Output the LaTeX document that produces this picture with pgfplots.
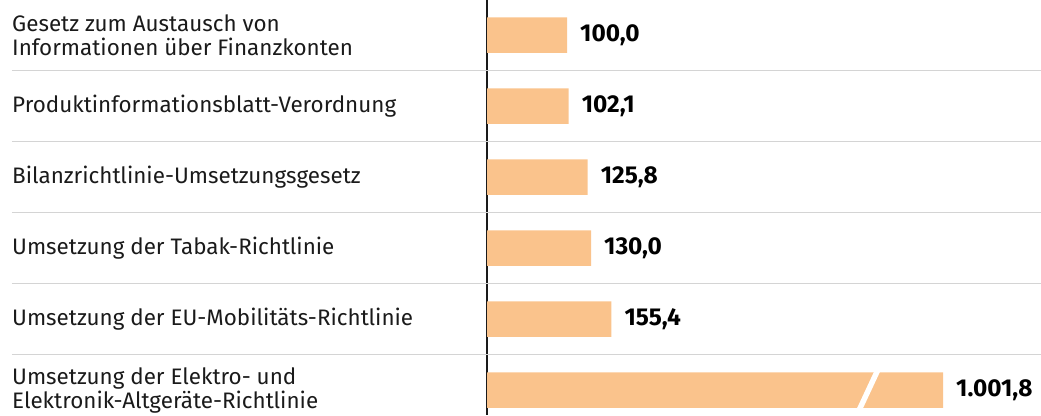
\documentclass[border=0pt]{standalone}
\usepackage{fontspec}
\setmainfont{Fira Sans}
\usepackage{pgfplots}
\pgfplotsset{compat=1.18}
\definecolor{barc}{RGB}{250,195,140}
\definecolor{sepc}{RGB}{212,212,212}
\definecolor{txt}{RGB}{26,26,26}
\begin{document}
\begin{tikzpicture}[x=1bp,y=1bp]
\clip (0,0) rectangle (1041,-415);
\begin{axis}[
    at={(487bp,0bp)}, anchor=north west,
    scale only axis,
    width=554bp, height=415bp,
    xmin=0, xmax=692.5,
    ymin=0.507, ymax=6.352,
    y dir=reverse,
    xbar, bar width=35.5bp,
    hide x axis,
    axis y line*=left,
    y axis line style={-, txt, line width=1.3bp},
    ytick={1,2,3,4,5,6},
    yticklabels={{Gesetz zum Austausch von\\Informationen über Finanzkonten},
        {Produktinformationsblatt-Verordnung},
        {Bilanzrichtlinie-Umsetzungsgesetz},
        {Umsetzung der Tabak-Richtlinie},
        {Umsetzung der EU-Mobilitäts-Richtlinie},
        {Umsetzung der Elektro- und\\Elektronik-Altgeräte-Richtlinie}},
    yticklabel style={anchor=west, align=left, inner sep=0pt, xshift=-475bp,
        font=\fontsize{22.5}{24}\selectfont, text=txt},
    major tick length=0pt,
    clip=false,
    point meta=explicit symbolic,
    nodes near coords,
    nodes near coords style={anchor=west, inner sep=0pt, xshift=13bp,
        font=\fontsize{24.5}{26}\selectfont\bfseries, text=black},
]
\pgfplotsinvokeforeach{1.5,2.5,3.5,4.5,5.5}{
  \draw[sepc, line width=1.6bp] (axis cs:-593.75,#1) -- (axis cs:692.5,#1);
}
\addplot[fill=barc, draw=none] coordinates {
  (100,1) [{100,0}]
  (102.1,2) [{102,1}]
  (125.8,3) [{125,8}]
  (130,4) [{130,0}]
  (155.4,5) [{155,4}]
  (570,6) [{1.001,8}]
};
% break mark on the shortened last bar
\fill[white] (axis cs:461.5,6.28) -- (axis cs:469,6.28) -- (axis cs:492.2,5.72) -- (axis cs:484.7,5.72) -- cycle;
\end{axis}
\end{tikzpicture}
\end{document}
